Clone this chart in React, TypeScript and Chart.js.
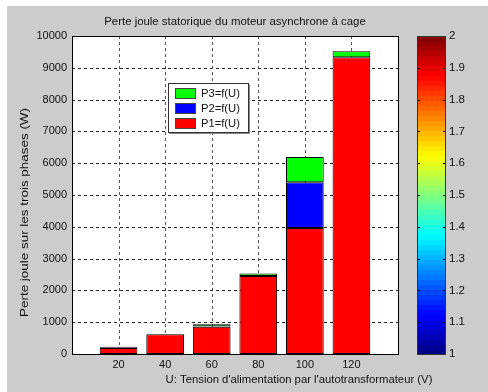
import React, { useEffect, useRef } from 'react';
import { Chart, registerables } from 'chart.js';
Chart.register(...registerables);

const U = [20, 40, 60, 80, 100, 120];
const P1 = [190, 620, 860, 2450, 3960, 9330];
const P2 = [10, 3, 5, 5, 1440, 5];
const P3 = [30, 7, 70, 80, 795, 185];
const SERIES = ['P1=f(U)', 'P2=f(U)', 'P3=f(U)'];
const COLORS = ['#ff0000', '#0000ff', '#00ff00'];
const TITLE = 'Perte joule statorique du moteur asynchrone à cage';
const XTITLE = "U: Tension d'alimentation par l'autotransformateur (V)";
const YTITLE = 'Perte joule sur les trois phases (W)';
const CB_MIN = 1;
const CB_MAX = 2;

const FONT = '"Liberation Sans", Arial, sans-serif';

function jet(t: number): string {
  const c = (v: number) => Math.round(255 * Math.max(0, Math.min(1, v)));
  const r = c(1.5 - Math.abs(4 * t - 3));
  const g = c(1.5 - Math.abs(4 * t - 2));
  const b = c(1.5 - Math.abs(4 * t - 1));
  return `rgb(${r},${g},${b})`;
}

const mainPlugin = {
  id: 'matlabLook',
  beforeDraw(chart: any) {
    const { ctx, width, height, chartArea: a } = chart;
    ctx.save();
    ctx.fillStyle = '#ffffff';
    ctx.fillRect(0, 0, width, height);
    ctx.fillStyle = '#cccccc';
    ctx.fillRect(7, 6, width - 7, height - 6);
    ctx.fillStyle = '#ffffff';
    ctx.fillRect(a.left, a.top, a.right - a.left, a.bottom - a.top);
    ctx.restore();
  },
  beforeDatasetsDraw(chart: any) {
    const { ctx, chartArea: a, scales } = chart;
    ctx.save();
    ctx.lineWidth = 1;
    ctx.setLineDash([3, 3]);
    ctx.strokeStyle = '#222';
    scales.y.ticks.forEach((t: any) => {
      if (t.value <= scales.y.min || t.value >= scales.y.max) return;
      const y = Math.round(scales.y.getPixelForValue(t.value)) + 0.5;
      ctx.beginPath();
      ctx.moveTo(a.left, y);
      ctx.lineTo(a.right, y);
      ctx.stroke();
    });
    ctx.strokeStyle = '#555';
    scales.x.ticks.forEach((t: any) => {
      const x = Math.round(scales.x.getPixelForValue(t.value)) + 0.5;
      ctx.beginPath();
      ctx.moveTo(x, a.top);
      ctx.lineTo(x, a.bottom);
      ctx.stroke();
    });
    ctx.restore();
  },
  afterDatasetsDraw(chart: any) {
    const { ctx, chartArea: a } = chart;
    ctx.save();
    ctx.strokeStyle = '#000';
    ctx.lineWidth = 1;
    ctx.strokeRect(Math.round(a.left) + 0.5, Math.round(a.top) + 0.5, Math.round(a.right - a.left), Math.round(a.bottom - a.top));
    const lx = 168, ly = 83, lw = 81, lh = 50;
    ctx.fillStyle = '#ffffff';
    ctx.fillRect(lx, ly, lw, lh);
    ctx.strokeStyle = '#888';
    ctx.beginPath();
    ctx.moveTo(lx + 1.5, ly + lh + 0.5);
    ctx.lineTo(lx + lw + 0.5, ly + lh + 0.5);
    ctx.lineTo(lx + lw + 0.5, ly + 1.5);
    ctx.stroke();
    ctx.strokeStyle = '#333';
    ctx.strokeRect(lx + 0.5, ly + 0.5, lw - 1, lh - 1);
    ctx.font = `11.2px ${FONT}`;
    ctx.textBaseline = 'middle';
    ctx.textAlign = 'left';
    const order = [2, 1, 0];
    order.forEach((di, k) => {
      const ds = chart.data.datasets[di];
      const sy = 88 + k * 15;
      ctx.fillStyle = ds.backgroundColor;
      ctx.fillRect(175, sy, 20, 10);
      ctx.strokeStyle = '#444';
      ctx.strokeRect(175.5, sy + 0.5, 20, 10);
      ctx.fillStyle = '#111';
      ctx.fillText(ds.label, 201, sy + 5.5);
    });
    ctx.fillStyle = '#111';
    ctx.textAlign = 'center';
    ctx.font = `11.4px ${FONT}`;
    ctx.fillText(TITLE, (a.left + a.right) / 2, 22);
    ctx.font = `11.3px ${FONT}`;
    ctx.fillText(XTITLE, 299, 380);
    ctx.font = `11.6px ${FONT}`;
    const w = ctx.measureText(YTITLE).width;
    ctx.save();
    ctx.translate(25, 212.5);
    ctx.rotate(-Math.PI / 2);
    ctx.scale(209 / w, 1);
    ctx.fillText(YTITLE, 0, 0);
    ctx.restore();
    ctx.restore();
  },
};

const cbPlugin = {
  id: 'colorbar',
  beforeDatasetsDraw(chart: any) {
    const { ctx, chartArea: a, scales } = chart;
    const n = 64;
    const h = a.bottom - a.top;
    ctx.save();
    for (let i = 0; i < n; i++) {
      const y0 = a.bottom - (h * (i + 1)) / n;
      ctx.fillStyle = jet((i + 0.5) / n);
      ctx.fillRect(a.left, Math.floor(y0), a.right - a.left, Math.ceil(h / n) + 1);
    }
    ctx.strokeStyle = '#000';
    ctx.lineWidth = 1;
    scales.y.ticks.forEach((t: any) => {
      const y = Math.round(scales.y.getPixelForValue(t.value)) + 0.5;
      ctx.beginPath();
      ctx.moveTo(a.left, y);
      ctx.lineTo(a.left + 3, y);
      ctx.moveTo(a.right - 3, y);
      ctx.lineTo(a.right, y);
      ctx.stroke();
    });
    ctx.strokeStyle = '#333';
    ctx.strokeRect(Math.round(a.left) + 0.5, Math.round(a.top) + 0.5, Math.round(a.right - a.left) - 1, Math.round(h));
    ctx.restore();
  },
};

export default function App() {
  const mainRef = useRef<HTMLCanvasElement>(null);
  const cbRef = useRef<HTMLCanvasElement>(null);

  useEffect(() => {
    document.body.style.margin = '0';
    const datasets = [P1, P2, P3].map((vals, i) => ({
      label: SERIES[i],
      data: vals.map((v, j) => ({ x: U[j], y: v })),
      backgroundColor: COLORS[i],
      borderColor: '#000',
      borderWidth: 1,
      borderSkipped: false as any,
      barPercentage: 0.81,
      categoryPercentage: 1,
    }));
    const main = new Chart(mainRef.current!, {
      type: 'bar',
      data: { datasets },
      options: {
        animation: false,
        responsive: false,
        layout: { padding: { left: 0, right: 90, top: 36, bottom: 0 } },
        plugins: { legend: { display: false }, tooltip: { enabled: false }, title: { display: false } },
        scales: {
          x: {
            type: 'linear',
            stacked: true,
            offset: false,
            min: 0,
            max: 140,
            grid: { display: false, drawTicks: false, offset: false },
            border: { display: false },
            ticks: { color: '#111', font: { family: FONT, size: 11 }, padding: 4, maxRotation: 0 },
            afterBuildTicks: (s: any) => { s.ticks = U.map((v) => ({ value: v })); },
            afterFit: (s: any) => { s.height = 38; },
          },
          y: {
            stacked: true,
            min: 0,
            max: 10000,
            grid: { display: false, drawTicks: false },
            border: { display: false },
            ticks: { stepSize: 1000, color: '#111', font: { family: FONT, size: 11 }, padding: 5, callback: (v: any) => String(v) },
            afterFit: (s: any) => { s.width = 72; },
          },
        },
      },
      plugins: [mainPlugin],
    } as any);

    const cb = new Chart(cbRef.current!, {
      type: 'bar',
      data: { labels: [''], datasets: [{ data: [] }] },
      options: {
        animation: false,
        responsive: false,
        layout: { padding: { left: 0, right: 0, top: 36, bottom: 38 } },
        plugins: { legend: { display: false }, tooltip: { enabled: false } },
        scales: {
          x: { display: false },
          y: {
            position: 'right',
            min: CB_MIN,
            max: CB_MAX,
            grid: { display: false, drawTicks: false },
            border: { display: false },
            ticks: {
              stepSize: 0.1,
              color: '#111',
              font: { family: FONT, size: 11.5 },
              padding: 3,
              callback: (v: any) => String(Number(Number(v).toFixed(1))),
            },
            afterFit: (s: any) => { s.width = 42; },
          },
        },
      },
      plugins: [cbPlugin],
    } as any);

    return () => {
      main.destroy();
      cb.destroy();
    };
  }, []);

  return (
    <div style={{ position: 'fixed', left: 0, top: 0, width: 488, height: 392 }}>
      <canvas ref={mainRef} width={488} height={392} style={{ position: 'absolute', left: 0, top: 0 }} />
      <canvas ref={cbRef} width={71} height={392} style={{ position: 'absolute', left: 417, top: 0 }} />
    </div>
  );
}
